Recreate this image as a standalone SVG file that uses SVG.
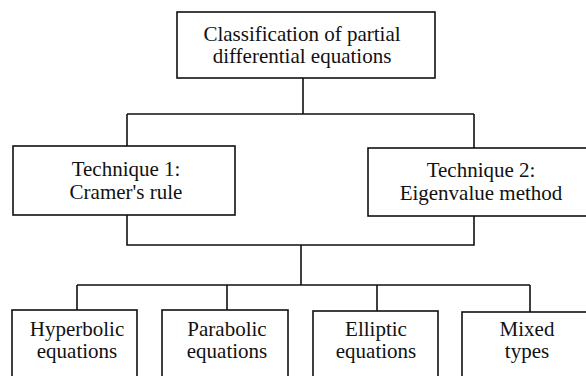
<svg xmlns="http://www.w3.org/2000/svg" width="586" height="376" viewBox="0 0 586 376">
<style>
.box{fill:#fff;stroke:#111;stroke-width:1.6}
.c{fill:none;stroke:#111;stroke-width:1.6}
text{font-family:"Liberation Serif","Times New Roman",serif;font-size:21px;fill:#111;text-anchor:middle}
</style>
<rect width="586" height="376" fill="#fff"/>
<g id="connectors">
<path class="c" d="M303 78V114M127 114H474M127 114V146M474 114V148"/>
<path class="c" d="M127 215V245H474V216M301 245V285"/>
<path class="c" d="M77 285H530M77 285V310M227 285V310M377 285V311M530 285V312"/>
</g>
<g id="root"><rect class="box" x="177" y="12" width="258" height="66"/><text x="302" y="41">Classification of partial</text><text x="302" y="63">differential equations</text></g>
<g id="tech1"><rect class="box" x="13" y="146" width="222" height="69"/><text x="126" y="176">Technique 1:</text><text x="126" y="199">Cramer's rule</text></g>
<g id="tech2"><rect class="box" x="368" y="148" width="226" height="68"/><text x="481" y="177">Technique 2:</text><text x="481" y="200">Eigenvalue method</text></g>
<g id="hyper"><rect class="box" x="12" y="310" width="125" height="72"/><text x="77" y="336">Hyperbolic</text><text x="77" y="358">equations</text></g>
<g id="para"><rect class="box" x="162" y="310" width="126" height="72"/><text x="227" y="336">Parabolic</text><text x="227" y="358">equations</text></g>
<g id="ellip"><rect class="box" x="313" y="311" width="125" height="71"/><text x="376" y="336">Elliptic</text><text x="376" y="358">equations</text></g>
<g id="mixed"><rect class="box" x="462" y="312" width="126" height="70"/><text x="527" y="336">Mixed</text><text x="527" y="358">types</text></g>
</svg>
